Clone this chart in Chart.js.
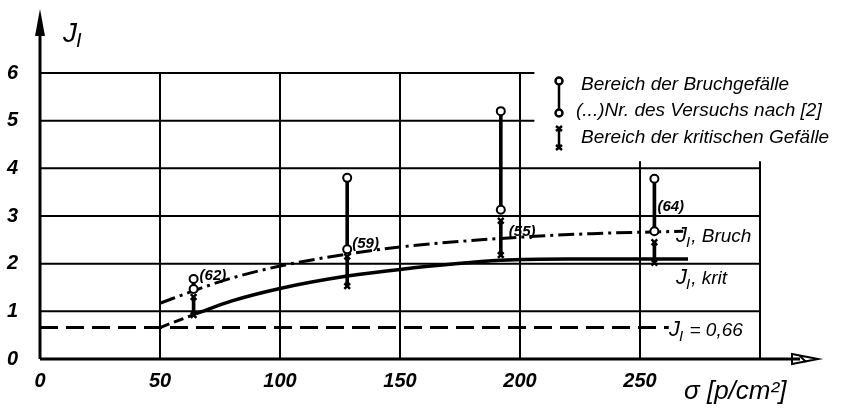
<!DOCTYPE html>
<html>
<head>
<meta charset="utf-8">
<script src="https://cdn.jsdelivr.net/npm/chart.js@4"></script>
<style>
  body { margin: 0; background: #fff; }
  #wrap { width: 845px; height: 411px; }
</style>
</head>
<body>
<div id="wrap"><canvas id="chart"></canvas></div>
<script>
// sigma [p/cm2] of the tests and the measured ranges
const sigma = [64, 128, 192, 256];
const bruchMax = [1.68, 3.8, 5.2, 3.78];
const bruchMin = [1.47, 2.3, 3.13, 2.68];
const kritMax = [1.3, 2.15, 2.9, 2.45];
const kritMin = [0.92, 1.53, 2.18, 2.02];
const versuchNr = ["(62)", "(59)", "(55)", "(64)"];

// fitted curves
const bruchCurveX = [50, 65, 80, 100, 128, 150, 192, 230, 268];
const bruchCurveY = [1.17, 1.45, 1.7, 1.95, 2.2, 2.35, 2.53, 2.63, 2.68];
const kritStartX = [50, 65];
const kritStartY = [0.66, 0.95];
const kritCurveX = [65, 80, 100, 128, 150, 192, 220, 270];
const kritCurveY = [0.95, 1.22, 1.48, 1.74, 1.88, 2.07, 2.1, 2.1];
const jLimitX = [0, 262];
const jLimitY = [0.66, 0.66];

const xTicks = [0, 50, 100, 150, 200, 250];
const yTicks = [0, 1, 2, 3, 4, 5, 6];

const pts = (xs, ys) => xs.map((x, i) => ({ x: x, y: ys[i] }));
const FONT = '"Liberation Sans", Arial, sans-serif';

// pixel offsets of the test numbers from the lower circle
const labelOffsets = [[6, -9], [5, -1], [8, 26], [3, -20]];

const drawing = {
  id: "drawing",
  beforeDatasetsDraw(chart) {
    const { ctx, scales: { x, y } } = chart;
    ctx.save();
    ctx.strokeStyle = "#000";
    ctx.lineWidth = 2;
    ctx.beginPath();
    [1, 2, 3, 4].forEach((v) => {
      ctx.moveTo(x.getPixelForValue(0), y.getPixelForValue(v));
      ctx.lineTo(x.getPixelForValue(300), y.getPixelForValue(v));
    });
    [5, 6].forEach((v) => {
      ctx.moveTo(x.getPixelForValue(0), y.getPixelForValue(v));
      ctx.lineTo(x.getPixelForValue(206), y.getPixelForValue(v));
    });
    [50, 100, 150, 200].forEach((v) => {
      ctx.moveTo(x.getPixelForValue(v), y.getPixelForValue(0));
      ctx.lineTo(x.getPixelForValue(v), y.getPixelForValue(6));
    });
    [250, 300].forEach((v) => {
      ctx.moveTo(x.getPixelForValue(v), y.getPixelForValue(0));
      ctx.lineTo(x.getPixelForValue(v), y.getPixelForValue(4.15));
    });
    ctx.stroke();

    // axes
    const x0 = x.getPixelForValue(0), y0 = y.getPixelForValue(0);
    ctx.lineWidth = 3;
    ctx.beginPath();
    ctx.moveTo(x0, y0);
    ctx.lineTo(x0, 30);
    ctx.moveTo(x0, y0);
    ctx.lineTo(800, y0);
    ctx.stroke();
    ctx.fillStyle = "#000";
    ctx.beginPath();
    ctx.moveTo(x0, 9);
    ctx.lineTo(x0 - 5, 36);
    ctx.lineTo(x0 + 5, 36);
    ctx.closePath();
    ctx.fill();
    ctx.lineWidth = 2;
    ctx.beginPath();
    ctx.moveTo(792, y0 - 5);
    ctx.lineTo(818, y0);
    ctx.lineTo(792, y0 + 5);
    ctx.closePath();
    ctx.moveTo(800, y0 - 3);
    ctx.lineTo(806, y0 + 3);
    ctx.stroke();
    ctx.restore();
  },
  afterDatasetsDraw(chart) {
    const { ctx, scales: { x, y } } = chart;
    ctx.save();
    ctx.fillStyle = "#000";
    ctx.textBaseline = "alphabetic";

    // test numbers
    ctx.font = "italic bold 15px " + FONT;
    ctx.textAlign = "left";
    sigma.forEach((s, i) => {
      const px = x.getPixelForValue(s) + labelOffsets[i][0];
      const py = y.getPixelForValue(bruchMin[i]) + labelOffsets[i][1];
      ctx.fillText(versuchNr[i], px, py);
    });

    // curve labels
    const sub = (txt, subTxt, rest, px, py, size) => {
      ctx.font = "italic " + size + "px " + FONT;
      ctx.fillText(txt, px, py);
      let w = ctx.measureText(txt).width;
      ctx.font = "italic " + Math.round(size * 0.7) + "px " + FONT;
      ctx.fillText(subTxt, px + w - 1, py + 5);
      w += ctx.measureText(subTxt).width;
      ctx.font = "italic " + Math.round(size * 0.85) + "px " + FONT;
      ctx.fillText(rest, px + w, py);
    };
    const lx = x.getPixelForValue(265);
    sub("J", "I", ", Bruch", lx, y.getPixelForValue(bruchCurveY[bruchCurveY.length - 1]) + 11, 22);
    sub("J", "I", ", krit", lx, y.getPixelForValue(1.57), 22);
    sub("J", "I", " = 0,66", lx - 7, y.getPixelForValue(jLimitY[0]) + 8, 22);

    // axis titles
    sub("J", "I", "", 63, 42, 28);
    ctx.font = "italic 26px " + FONT;
    ctx.fillText("σ [p/cm²]", 684, 399);

    // legend
    const lg = 559;
    ctx.strokeStyle = "#000";
    ctx.lineWidth = 2.5;
    ctx.beginPath();
    ctx.moveTo(lg, 84); ctx.lineTo(lg, 110);
    ctx.moveTo(lg, 128); ctx.lineTo(lg, 148);
    ctx.moveTo(lg - 3, 126); ctx.lineTo(lg + 3, 131);
    ctx.moveTo(lg + 3, 126); ctx.lineTo(lg - 3, 131);
    ctx.moveTo(lg - 3, 145); ctx.lineTo(lg + 3, 150);
    ctx.moveTo(lg + 3, 145); ctx.lineTo(lg - 3, 150);
    ctx.stroke();
    ctx.fillStyle = "#fff";
    [81, 113].forEach((cy) => {
      ctx.beginPath();
      ctx.arc(lg, cy, 3.5, 0, Math.PI * 2);
      ctx.fill();
      ctx.stroke();
    });
    ctx.fillStyle = "#000";
    ctx.font = "italic 19px " + FONT;
    ctx.fillText("Bereich der Bruchgefälle", 581, 90);
    ctx.fillText("(...)Nr. des Versuchs nach [2]", 576, 116);
    ctx.fillText("Bereich der kritischen Gefälle", 581, 143);
    ctx.restore();
  }
};

new Chart(document.getElementById("chart"), {
  data: {
    datasets: [
      {
        type: "scatter",
        data: pts(sigma, bruchMax).concat(pts(sigma, bruchMin)),
        pointStyle: "circle",
        pointRadius: 4,
        pointBackgroundColor: "#fff",
        pointBorderColor: "#000",
        pointBorderWidth: 2,
        order: 0,
      },
      {
        type: "scatter",
        data: pts(sigma, kritMin).concat(pts(sigma, kritMax)),
        pointStyle: "crossRot",
        pointRadius: 4,
        pointBorderColor: "#000",
        pointBorderWidth: 2.5,
        order: 1,
      },
      {
        type: "bar",
        data: sigma.map((s, i) => ({ x: s, y: [bruchMin[i], bruchMax[i]] })),
        backgroundColor: "#000",
        barThickness: 3,
        grouped: false,
        order: 3,
      },
      {
        type: "bar",
        data: sigma.map((s, i) => ({ x: s, y: [kritMin[i], kritMax[i]] })),
        backgroundColor: "#000",
        barThickness: 3,
        grouped: false,
        order: 3,
      },
      {
        type: "line",
        data: pts(bruchCurveX, bruchCurveY),
        borderColor: "#000",
        borderWidth: 3,
        borderDash: [16, 5, 3, 5],
        pointRadius: 0,
        cubicInterpolationMode: "monotone",
        order: 4,
      },
      {
        type: "line",
        data: pts(kritCurveX, kritCurveY),
        borderColor: "#000",
        borderWidth: 3.5,
        pointRadius: 0,
        cubicInterpolationMode: "monotone",
        order: 4,
      },
      {
        type: "line",
        data: pts(kritStartX, kritStartY),
        borderColor: "#000",
        borderWidth: 3,
        borderDash: [10, 5],
        pointRadius: 0,
        order: 4,
      },
      {
        type: "line",
        data: pts(jLimitX, jLimitY),
        borderColor: "#000",
        borderWidth: 3,
        borderDash: [18, 8],
        pointRadius: 0,
        order: 4,
      },
    ],
  },
  options: {
    animation: false,
    responsive: true,
    maintainAspectRatio: false,
    layout: { padding: { top: 73, right: 85, left: 0, bottom: 0 } },
    plugins: { legend: { display: false }, tooltip: { enabled: false } },
    scales: {
      x: {
        type: "linear",
        offset: false,
        min: 0,
        max: 300,
        afterBuildTicks: (s) => { s.ticks = xTicks.map((v) => ({ value: v })); },
        afterFit: (s) => { s.height = 52; },
        grid: { display: false },
        border: { display: false },
        ticks: {
          color: "#000",
          padding: 2,
          font: { family: FONT, size: 20, style: "italic", weight: "bold" },
        },
      },
      y: {
        min: 0,
        max: 6,
        afterBuildTicks: (s) => { s.ticks = yTicks.map((v) => ({ value: v })); },
        afterFit: (s) => { s.width = 40; },
        grid: { display: false },
        border: { display: false },
        ticks: {
          color: "#000",
          padding: 14,
          font: { family: FONT, size: 20, style: "italic", weight: "bold" },
        },
      },
    },
  },
  plugins: [drawing],
});
</script>
</body>
</html>
